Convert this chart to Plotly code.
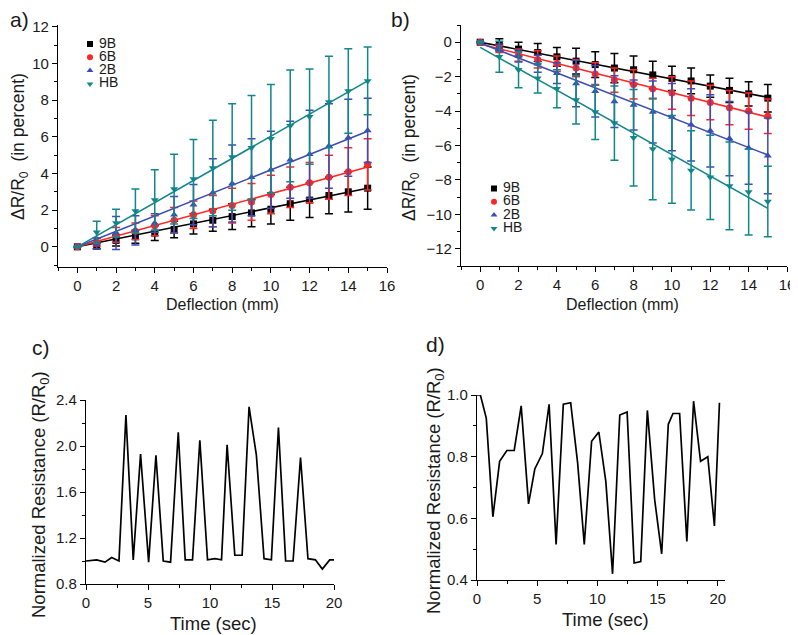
import plotly.graph_objects as go

W, H = 798, 635
OFF = 8  # the page body adds an 8px margin around the figure
FONT = "Liberation Sans, Arial, sans-serif"
TXT = "#1a1a1a"

# ---------------- data ----------------
deflection = list(range(16))
series = ["9B", "6B", "2B", "HB"]
colors = ["#000000", "#ff2626", "#3b4db3", "#12878a"]
symbols = ["square", "circle", "triangle-up", "triangle-down"]
legend_rows = [0, 1, 2, 3]

# panel a (positive)
a_9B = [0, 0.05, 0.35, 0.55, 0.75, 0.95, 1.25, 1.45, 1.65, 1.85, 2.05, 2.35, 2.55, 2.8, 3.0, 3.2]
a_6B = [0, 0.25, 0.65, 0.85, 1.15, 1.45, 1.75, 1.95, 2.25, 2.45, 2.85, 3.25, 3.5, 3.8, 4.1, 4.5]
a_2B = [0, 0.2, 0.75, 0.9, 1.3, 1.75, 2.3, 2.95, 3.45, 3.8, 4.2, 4.75, 5.05, 5.5, 5.95, 6.35]
a_HB = [0, 0.8, 1.3, 1.95, 2.55, 3.15, 3.7, 4.3, 4.9, 5.4, 5.9, 6.6, 7.1, 7.9, 8.5, 9.05]
a_9B_err = [0, 0.15, 0.3, 0.35, 0.4, 0.45, 0.55, 0.6, 0.7, 0.75, 0.8, 0.9, 0.95, 1.0, 1.1, 1.15]
a_6B_err = [0, 0.2, 0.4, 0.45, 0.55, 0.7, 0.75, 0.85, 0.95, 1.0, 1.05, 1.1, 1.1, 1.2, 1.3, 1.4]
a_2B_err = [0, 0.3, 0.9, 0.8, 0.5, 1.0, 1.1, 1.85, 2.1, 2.1, 2.1, 2.1, 2.4, 2.3, 2.1, 1.75]
a_HB_err = [0, 0.6, 0.75, 1.2, 1.65, 1.9, 2.15, 2.6, 2.9, 2.85, 2.95, 3.05, 2.6, 2.5, 2.3, 1.85]
a_fit_x = [0, 15]
a_fit_start = [0, 0, 0, 0]
a_fit_end = [3.2, 4.35, 6.3, 9.05]

# panel b (negative)
b_9B = [0, -0.15, -0.4, -0.6, -0.85, -1.1, -1.3, -1.5, -1.6, -1.9, -2.1, -2.25, -2.55, -2.8, -3.0, -3.25]
b_6B = [0, -0.4, -0.75, -1.0, -1.25, -1.5, -1.85, -2.2, -2.45, -2.7, -2.95, -3.25, -3.5, -3.8, -4.0, -4.3]
b_2B = [0, -0.3, -0.8, -1.25, -1.8, -2.4, -2.85, -3.45, -3.65, -4.05, -4.35, -4.8, -5.15, -5.6, -6.15, -6.6]
b_HB = [0, -0.85, -1.6, -2.1, -2.7, -3.35, -4.05, -4.7, -5.55, -6.2, -6.8, -7.45, -7.85, -8.35, -8.7, -9.25]
b_9B_err = [0, 0.35, 0.4, 0.52, 0.55, 0.75, 0.75, 0.85, 0.8, 0.8, 0.7, 0.75, 0.65, 0.7, 0.7, 0.8]
b_6B_err = [0, 0.2, 0.35, 0.5, 0.45, 0.5, 0.65, 0.7, 0.85, 0.6, 0.95, 1.0, 1.0, 1.0, 1.05, 1.0]
b_2B_err = [0, 0.2, 0.35, 0.5, 0.6, 1.35, 1.5, 1.5, 1.45, 1.8, 1.95, 2.1, 2.1, 2.15, 2.1, 2.2]
b_HB_err = [0, 0.9, 1.05, 0.85, 1.1, 1.4, 1.6, 2.15, 2.8, 2.95, 2.55, 2.3, 2.45, 2.55, 2.5, 2.05]
b_fit_x = [0, 15]
b_fit_start = [0, -0.1, -0.05, -0.3]
b_fit_end = [-3.2, -4.35, -6.55, -9.65]

# panel c
c_time = [0, 0.86, 1.53, 2.07, 2.66, 3.22, 3.81, 4.4, 5.05, 5.64, 6.23, 6.82, 7.44, 8.0, 8.59,
          9.18, 9.8, 10.39, 10.93, 11.38, 12.0, 12.59, 13.15, 13.74, 14.36, 14.95, 15.52, 16.1,
          16.7, 17.3, 17.9, 18.5, 19.06, 19.65, 20.0]
c_res = [1.0, 1.01, 0.99, 1.03, 1.0, 2.27, 1.01, 1.93, 0.99, 1.92, 1.0, 0.99, 2.12, 1.01, 1.01,
         2.05, 1.01, 1.02, 1.01, 2.01, 1.05, 1.05, 2.34, 1.92, 1.02, 1.01, 2.16, 1.0,
         1.0, 1.9, 1.02, 1.01, 0.93, 1.01, 1.01]

# panel d
d_time = [0, 0.28, 0.77, 1.32, 1.88, 2.48, 3.09, 3.67, 4.28, 4.8, 5.43, 5.99, 6.57, 7.17, 7.78,
          8.36, 8.91, 9.52, 10.12, 10.7, 11.26, 11.86, 12.47, 13.05, 13.6, 14.15, 14.76, 15.34,
          15.89, 16.28, 16.83, 17.43, 17.99, 18.57, 19.17, 19.72, 20.14]
d_res = [1.0, 1.0, 0.925, 0.605, 0.785, 0.82, 0.82, 0.965, 0.647, 0.76, 0.81, 0.97, 0.515, 0.97, 0.975,
         0.78, 0.515, 0.85, 0.88, 0.72, 0.42, 0.935, 0.945, 0.455, 0.46, 0.95, 0.66, 0.485,
         0.905, 0.94, 0.94, 0.525, 0.98, 0.785, 0.8, 0.575, 0.975]

a_vals = [a_9B, a_6B, a_2B, a_HB]
a_errs = [a_9B_err, a_6B_err, a_2B_err, a_HB_err]
b_vals = [b_9B, b_6B, b_2B, b_HB]
b_errs = [b_9B_err, b_6B_err, b_2B_err, b_HB_err]


def px_x(p):
    return (p - OFF) / W


def px_y(p):
    return 1 - (p - OFF) / H


fig = go.Figure()


def add_panel(vals, errs, fx, fs, fe, xa, ya):
    for i, name in enumerate(series):
        fig.add_trace(go.Scatter(x=fx, y=[fs[i], fe[i]], mode="lines",
                                 line=dict(color=colors[i], width=1.6), showlegend=False,
                                 xaxis=xa, yaxis=ya, hoverinfo="skip"))
        fig.add_trace(go.Scatter(x=deflection, y=vals[i], mode="markers", name=name,
                                 marker=dict(color=colors[i], symbol=symbols[i], size=7),
                                 error_y=dict(type="data", array=errs[i], color=colors[i],
                                              thickness=1.5, width=4),
                                 showlegend=False, xaxis=xa, yaxis=ya))


add_panel(a_vals, a_errs, a_fit_x, a_fit_start, a_fit_end, "x", "y")
add_panel(b_vals, b_errs, b_fit_x, b_fit_start, b_fit_end, "x2", "y2")

fig.add_trace(go.Scatter(x=c_time, y=c_res, mode="lines", line=dict(color="black", width=1.7),
                         showlegend=False, xaxis="x3", yaxis="y3"))
fig.add_trace(go.Scatter(x=d_time, y=d_res, mode="lines", line=dict(color="black", width=1.7),
                         showlegend=False, xaxis="x4", yaxis="y4"))

# compact legends (one row per series) drawn on small hidden axes:
# x unit = 1 px, y unit = one legend row
LEG_TEXT_GAP = 9
for xa, ya in (("x5", "y5"), ("x6", "y6")):
    fig.add_trace(go.Scatter(x=[0] * len(series), y=legend_rows, mode="markers",
                             marker=dict(color=colors, symbol=symbols, size=6),
                             cliponaxis=False, showlegend=False, hoverinfo="skip",
                             xaxis=xa, yaxis=ya))
    fig.add_trace(go.Scatter(x=[LEG_TEXT_GAP] * len(series), y=legend_rows, mode="text",
                             text=series, textposition="middle right",
                             textfont=dict(size=14, family=FONT, color=TXT),
                             cliponaxis=False, showlegend=False, hoverinfo="skip",
                             xaxis=xa, yaxis=ya))


def ax(domain, rng, dtick, minor, anchor):
    return dict(domain=domain, range=rng, dtick=dtick, tick0=0, anchor=anchor,
                automargin=False,
                showline=True, linecolor="black", linewidth=1.2, ticks="outside",
                ticklen=5, tickwidth=1.2, tickcolor="black", showgrid=False, zeroline=False,
                tickfont=dict(size=15, color=TXT, family=FONT),
                minor=dict(dtick=minor, ticks="outside", ticklen=3, tickwidth=1.2,
                           tickcolor="black", showgrid=False))


def hidden(domain, rng, anchor):
    return dict(domain=domain, range=rng, anchor=anchor, visible=False, automargin=False,
                fixedrange=True)


ROW = 13.3
LA_X, LA_Y = 90, 44      # legend a: first marker centre (px)
LB_X, LB_Y = 494, 188.5  # legend b
layout = dict(
    width=W, height=H, margin=dict(l=0, r=0, t=0, b=0, autoexpand=False),
    paper_bgcolor="white", plot_bgcolor="white", showlegend=False,
    font=dict(family=FONT, color=TXT, size=14),
    xaxis=ax([px_x(58), px_x(387)], [-1, 16], 2, 1, "y"),
    yaxis=ax([px_y(267), px_y(25)], [-1.1, 12.1], 2, 1, "x"),
    xaxis2=ax([px_x(461), px_x(787)], [-1, 16], 2, 1, "y2"),
    yaxis2=ax([px_y(266), px_y(25)], [-13, 1], 2, 1, "x2"),
    xaxis3=ax([px_x(86), px_x(334)], [0, 20], 5, 2.5, "y3"),
    yaxis3=ax([px_y(584), px_y(400)], [0.8, 2.4], 0.4, 0.2, "x3"),
    xaxis4=ax([px_x(477), px_x(725)], [0, 20.6], 5, 2.5, "y4"),
    yaxis4=ax([px_y(580), px_y(395)], [0.4, 1.0], 0.2, 0.1, "x4"),
    xaxis5=hidden([px_x(LA_X - 10), px_x(LA_X + 50)], [-10, 50], "y5"),
    yaxis5=hidden([px_y(LA_Y + 56), px_y(LA_Y - 9)], [56 / ROW, -9 / ROW], "x5"),
    xaxis6=hidden([px_x(LB_X - 10), px_x(LB_X + 50)], [-10, 50], "y6"),
    yaxis6=hidden([px_y(LB_Y + 56), px_y(LB_Y - 9)], [56 / ROW, -9 / ROW], "x6"),
)
fig.update_layout(**layout)
fig.update_layout(yaxis3_tickformat=".1f", yaxis4_tickformat=".1f")

annos = [
    ("a)", 19, 19, 21, 0), ("b)", 400, 19, 21, 0), ("c)", 41, 347, 21, 0), ("d)", 435, 344, 21, 0),
    ("ΔR/R<sub>0</sub>  (in percent)", 19, 147, 17.5, -90),
    ("ΔR/R<sub>0</sub>  (in percent)", 410, 148, 17.5, -90),
    ("Deflection (mm)", 222, 305, 16, 0),
    ("Deflection (mm)", 622, 305, 16, 0),
    ("Normalized Resistance (R/R<sub>0</sub>)", 40, 495, 18.5, -90),
    ("Normalized Resistance (R/R<sub>0</sub>)", 435, 491, 18.5, -90),
    ("Time (sec)", 213, 623, 18.5, 0),
    ("Time (sec)", 605, 619, 18.5, 0),
]
for text, x, y, size, ang in annos:
    fig.add_annotation(text=text, x=px_x(x), y=px_y(y), xref="paper", yref="paper",
                       showarrow=False, textangle=ang, xanchor="center", yanchor="middle",
                       font=dict(size=size, family=FONT, color=TXT))

fig.write_html("out.html")
